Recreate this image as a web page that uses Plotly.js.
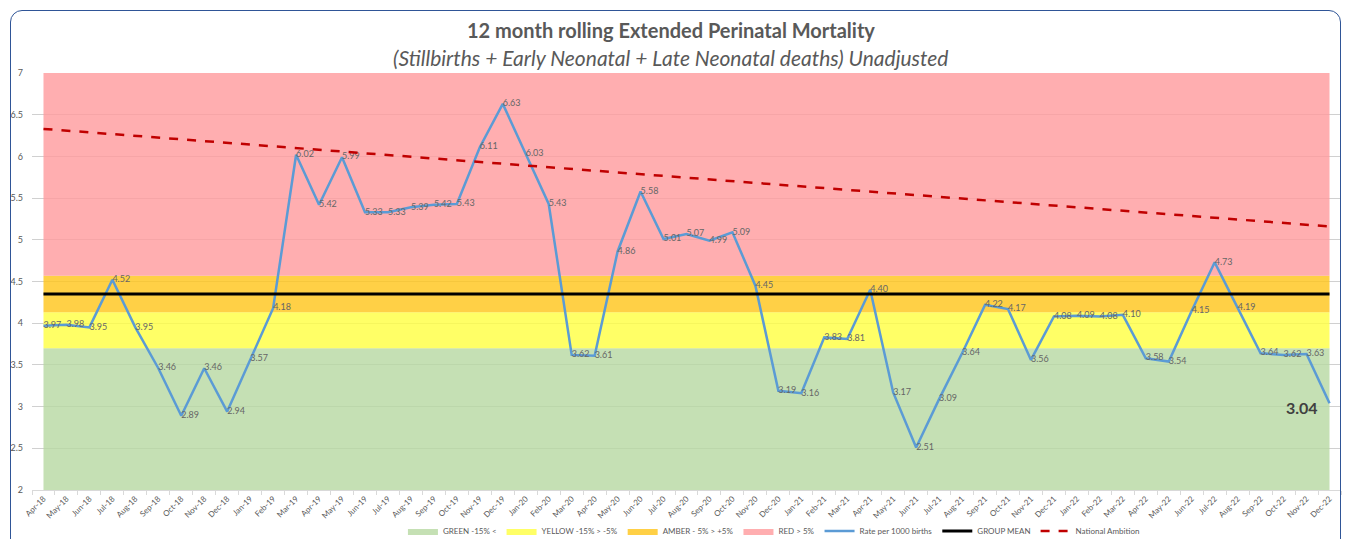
<!DOCTYPE html>
<html>
<head>
<meta charset="utf-8">
<script src="https://cdn.plot.ly/plotly-3.0.1.min.js"></script>
<style>
  html, body { margin: 0; padding: 0; background: #fff; }
  #wrap { position: relative; width: 1346px; height: 539px; overflow: hidden; }
  #chart { position: absolute; left: 0; top: 0; width: 1346px; height: 539px; }
  #frame { position: absolute; left: 10px; top: 10px; width: 1331px; height: 560px;
           border: 1.5px solid #2F5597; border-radius: 12px; pointer-events: none; box-sizing: border-box; }
</style>
</head>
<body>
<div id="wrap">
  <div id="chart"></div>
  <div id="frame"></div>
</div>
<script>
// ---- Data ----
const months = ['Apr-18','May-18','Jun-18','Jul-18','Aug-18','Sep-18','Oct-18','Nov-18','Dec-18',
  'Jan-19','Feb-19','Mar-19','Apr-19','May-19','Jun-19','Jul-19','Aug-19','Sep-19','Oct-19','Nov-19','Dec-19',
  'Jan-20','Feb-20','Mar-20','Apr-20','May-20','Jun-20','Jul-20','Aug-20','Sep-20','Oct-20','Nov-20','Dec-20',
  'Jan-21','Feb-21','Mar-21','Apr-21','May-21','Jun-21','Jul-21','Aug-21','Sep-21','Oct-21','Nov-21','Dec-21',
  'Jan-22','Feb-22','Mar-22','Apr-22','May-22','Jun-22','Jul-22','Aug-22','Sep-22','Oct-22','Nov-22','Dec-22'];

const rate = [3.97,3.98,3.95,4.52,3.95,3.46,2.89,3.46,2.94,
  3.57,4.18,6.02,5.42,5.99,5.33,5.33,5.39,5.42,5.43,6.11,6.63,
  6.03,5.43,3.62,3.61,4.86,5.58,5.01,5.07,4.99,5.09,4.45,3.19,
  3.16,3.83,3.81,4.40,3.17,2.51,3.09,3.64,4.22,4.17,3.56,4.08,
  4.09,4.08,4.10,3.58,3.54,4.15,4.73,4.19,3.64,3.62,3.63,3.04];

const groupMean = 4.35;
const bandNames = ['GREEN -15% <', 'YELLOW -15% > -5%', 'AMBER - 5% > +5%', 'RED > 5%'];
const bandUpper = [3.70, 4.13, 4.57, 7];
const bandColors = ['rgba(182,216,161,0.8)', 'rgba(255,255,64,0.8)', 'rgba(255,196,24,0.8)', 'rgba(255,154,156,0.8)'];

const ambitionMonths = ['Apr-18', 'Dec-22'];
const ambitionValues = [6.33, 5.16];

const yTicks = [2, 2.5, 3, 3.5, 4, 4.5, 5, 5.5, 6, 6.5, 7];

// ---- Traces ----
const ends = [months[0], months[months.length - 1]];
const traces = [];
bandNames.forEach((name, i) => {
  traces.push({
    type: 'scatter', mode: 'lines', name: name,
    x: ends, y: [bandUpper[i], bandUpper[i]],
    fill: i === 0 ? 'tozeroy' : 'tonexty',
    fillcolor: bandColors[i],
    line: { width: 0, color: bandColors[i] },
    hoverinfo: 'skip'
  });
});

const n = rate.length;
traces.push({
  type: 'scatter', mode: 'lines+text', name: 'Rate per 1000 births',
  x: months, y: rate,
  text: rate.map((v, i) => i === n - 1 ? '' : v.toFixed(2)),
  textposition: 'middle right',
  textfont: { family: 'Lato, sans-serif', size: 9, color: '#666666' },
  line: { color: '#5B9BD5', width: 2.5 },
  cliponaxis: false
});

traces.push({
  type: 'scatter', mode: 'lines', name: 'GROUP MEAN',
  x: ends, y: [groupMean, groupMean],
  line: { color: '#000000', width: 3 }
});

traces.push({
  type: 'scatter', mode: 'lines', name: 'National Ambition',
  x: ambitionMonths, y: ambitionValues,
  line: { color: '#C00000', width: 2.5, dash: 'dash' }
});

const layout = {
  width: 1346, height: 539,
  margin: { l: 32, r: 5, t: 73, b: 49, autoexpand: false },
  paper_bgcolor: 'rgba(0,0,0,0)', plot_bgcolor: '#ffffff',
  font: { family: 'Lato, sans-serif', color: '#595959' },
  showlegend: true,
  hovermode: false,
  legend: {
    orientation: 'h', xref: 'container', x: 0.575, xanchor: 'center',
    yref: 'container', y: 0.0148, yanchor: 'middle',
    font: { size: 8, color: '#595959' }, itemwidth: 30, traceorder: 'normal',
    bgcolor: 'rgba(0,0,0,0)'
  },
  xaxis: {
    type: 'category', categoryorder: 'array', categoryarray: months,
    range: [-0.5, months.length - 0.5], automargin: false,
    tickangle: -45, tickfont: { size: 8, color: '#595959' },
    tickson: 'boundaries', ticks: 'outside', ticklen: 4, tickcolor: '#D9D9D9',
    showline: true, linecolor: '#D9D9D9', linewidth: 1,
    showgrid: false, zeroline: false, fixedrange: true
  },
  yaxis: {
    range: [2, 7], tickvals: yTicks, ticktext: yTicks.map(String), automargin: false,
    tickfont: { size: 9, color: '#595959' },
    showgrid: true, gridcolor: '#D0D0D0', gridwidth: 1,
    showline: false, zeroline: false, ticks: '', ticklabelstandoff: 8, fixedrange: true
  },
  annotations: [
    { text: '<b>12 month rolling Extended Perinatal Mortality</b>', xref: 'paper', yref: 'paper',
      x: 0.488, y: 1.103, xanchor: 'center', yanchor: 'middle', showarrow: false,
      font: { family: 'Lato, sans-serif', size: 20, color: '#595959' } },
    { text: '<i>(Stillbirths + Early Neonatal + Late Neonatal deaths) Unadjusted</i>', xref: 'paper', yref: 'paper',
      x: 0.488, y: 1.036, xanchor: 'center', yanchor: 'middle', showarrow: false,
      font: { family: 'Lato, sans-serif', size: 21, color: '#595959' } },
    { text: '<b>' + rate[n - 1].toFixed(2) + '</b>', xref: 'x', yref: 'y',
      x: months[n - 1], y: rate[n - 1], xanchor: 'right', yanchor: 'middle',
      xshift: -10, yshift: -4, showarrow: false,
      font: { family: 'Lato, sans-serif', size: 16, color: '#404040' } }
  ]
};

Plotly.newPlot('chart', traces, layout, { displayModeBar: false, staticPlot: true });
</script>
</body>
</html>
